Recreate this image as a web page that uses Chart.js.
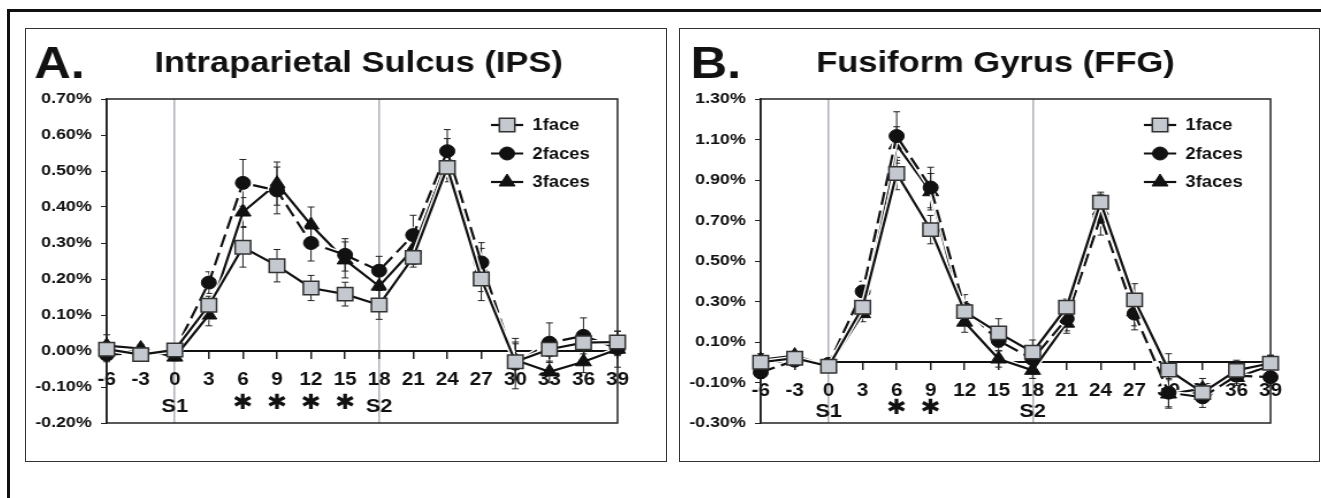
<!DOCTYPE html>
<html>
<head>
<meta charset="utf-8">
<script src="https://cdn.jsdelivr.net/npm/chart.js@4.4.1/dist/chart.umd.min.js"></script>
<style>
  body { margin: 0; background: #fff; width: 1321px; height: 498px; overflow: hidden; position: relative; }
  .frame { position: absolute; left: 7px; top: 9px; width: 1330px; height: 500px; border-top: 3px solid #111; border-left: 3px solid #111; }
  .box { position: absolute; top: 28px; height: 434px; border: 1.5px solid #333; box-sizing: border-box; }
  canvas { position: absolute; top: 28px; }
</style>
</head>
<body>
<div class="frame"></div>
<div class="box" style="left:25px;width:642px"></div>
<div class="box" style="left:679px;width:641px"></div>
<canvas id="ips" width="558" height="434" style="left:25px;width:642px;height:434px"></canvas>
<canvas id="ffg" width="557" height="434" style="left:679px;width:641px;height:434px"></canvas>
<script>
// time points (s)
const times = [-6, -3, 0, 3, 6, 9, 12, 15, 18, 21, 24, 27, 30, 33, 36, 39];
const seriesNames = ['1face', '2faces', '3faces'];

// Intraparietal Sulcus (% signal change)
const ipsOneFace = [0.005, -0.01, 0.003, 0.127, 0.288, 0.237, 0.175, 0.158, 0.128, 0.26, 0.51, 0.20, -0.03, 0.005, 0.023, 0.025];
const ipsTwoFaces = [-0.01, -0.005, 0.0, 0.19, 0.467, 0.446, 0.30, 0.267, 0.223, 0.322, 0.555, 0.246, -0.035, 0.023, 0.042, 0.007];
const ipsThreeFaces = [0.015, 0.007, -0.017, 0.10, 0.386, 0.465, 0.35, 0.253, 0.18, 0.283, 0.53, 0.225, -0.025, -0.058, -0.03, 0.005];
const ipsOneFaceErr = [0.02, 0.01, 0.01, 0.025, 0.055, 0.045, 0.035, 0.033, 0.04, 0.02, 0.03, 0.06, 0.05, 0.02, 0.02, 0.03];
const ipsTwoFacesErr = [0.02, 0.01, 0.01, 0.03, 0.065, 0.065, 0.05, 0.045, 0.04, 0.055, 0.06, 0.055, 0.07, 0.055, 0.05, 0.02];
const ipsThreeFacesErr = [0.03, 0.01, 0.01, 0.03, 0.04, 0.06, 0.05, 0.05, 0.04, 0.05, 0.06, 0.06, 0.05, 0.03, 0.03, 0.05];

// Fusiform Gyrus (% signal change)
const ffgOneFace = [0.0, 0.02, -0.02, 0.272, 0.932, 0.655, 0.25, 0.145, 0.05, 0.272, 0.79, 0.308, -0.038, -0.15, -0.04, -0.005];
const ffgTwoFaces = [-0.05, 0.008, -0.008, 0.35, 1.117, 0.863, 0.264, 0.107, 0.016, 0.215, 0.718, 0.24, -0.15, -0.173, -0.066, -0.074];
const ffgThreeFaces = [0.012, 0.033, -0.02, 0.24, 1.073, 0.842, 0.198, 0.016, -0.04, 0.193, 0.75, 0.25, -0.157, -0.13, -0.075, -0.016];
const ffgOneFaceErr = [0.03, 0.02, 0.02, 0.03, 0.08, 0.07, 0.05, 0.07, 0.06, 0.04, 0.05, 0.08, 0.08, 0.04, 0.05, 0.04];
const ffgTwoFacesErr = [0.03, 0.02, 0.02, 0.05, 0.12, 0.10, 0.07, 0.05, 0.05, 0.06, 0.09, 0.08, 0.07, 0.05, 0.04, 0.04];
const ffgThreeFacesErr = [0.03, 0.02, 0.02, 0.04, 0.09, 0.09, 0.05, 0.04, 0.04, 0.05, 0.08, 0.07, 0.07, 0.05, 0.04, 0.05];

// y axis ticks
const ipsYTicks = [-0.2, 0.7, 0.1];   // min, max, step
const ffgYTicks = [-0.3, 1.3, 0.2];

// stimulus marks under the x axis
const stimLines = [0, 18];
const ipsMarkTimes = [0, 6, 9, 12, 15, 18];
const ipsMarkText = ['S1', '\u2731', '\u2731', '\u2731', '\u2731', 'S2'];
const ffgMarkTimes = [0, 6, 9, 18];
const ffgMarkText = ['S1', '\u2731', '\u2731', 'S2'];

const FONT = '"Liberation Sans", Arial, sans-serif';
const INK = '#111';

const looks = [
  { pointStyle: 'rect', pointRadius: 9.5, pointBackgroundColor: '#c4c8cf', pointBorderColor: '#333', pointBorderWidth: 1.5, borderDash: [] },
  { pointStyle: 'circle', pointRadius: 6.5, pointBackgroundColor: INK, pointBorderColor: INK, pointBorderWidth: 1, borderDash: [13, 6] },
  { pointStyle: 'triangle', pointRadius: 8, pointBackgroundColor: INK, pointBorderColor: INK, pointBorderWidth: 1, borderDash: [] }
];

function makeSeries(values, errors) {
  return values.map((v, i) => Object.assign({
    label: seriesNames[i],
    data: v,
    errors: errors[i],
    borderColor: INK,
    borderWidth: 2.2,
    tension: 0,
    fill: false
  }, looks[i]));
}

const errorBars = {
  id: 'errorBars',
  beforeDatasetsDraw(chart) {
    const ctx = chart.ctx, y = chart.scales.y;
    ctx.save();
    ctx.strokeStyle = '#222';
    ctx.lineWidth = 1;
    chart.data.datasets.forEach((ds, i) => {
      const meta = chart.getDatasetMeta(i);
      meta.data.forEach((pt, j) => {
        const e = ds.errors[j];
        const top = y.getPixelForValue(ds.data[j] + e);
        const bot = y.getPixelForValue(ds.data[j] - e);
        ctx.beginPath();
        ctx.moveTo(pt.x, top); ctx.lineTo(pt.x, bot);
        ctx.moveTo(pt.x - 3, top); ctx.lineTo(pt.x + 3, top);
        ctx.moveTo(pt.x - 3, bot); ctx.lineTo(pt.x + 3, bot);
        ctx.stroke();
      });
    });
    ctx.restore();
  },
  // thin white halo under each line, like the original figure
  beforeDatasetDraw(chart, args) {
    const ctx = chart.ctx, pts = args.meta.data;
    ctx.save();
    ctx.strokeStyle = '#fff';
    ctx.lineWidth = 5;
    ctx.lineJoin = 'round';
    ctx.beginPath();
    pts.forEach((p, j) => j ? ctx.lineTo(p.x, p.y) : ctx.moveTo(p.x, p.y));
    ctx.stroke();
    ctx.restore();
  }
};

const decor = {
  id: 'decor',
  beforeDatasetsDraw(chart) {
    const a = chart.chartArea, ctx = chart.ctx;
    ctx.save();
    ctx.strokeStyle = '#222';
    ctx.lineWidth = 1.5;
    ctx.strokeRect(a.left, a.top, a.right - a.left, a.bottom - a.top);
    ctx.restore();
  },
  afterDraw(chart, args, o) {
    const a = chart.chartArea, ctx = chart.ctx, x = chart.scales.x;
    ctx.save();
    ctx.fillStyle = INK;
    ctx.textBaseline = 'alphabetic';
    ctx.textAlign = 'left';
    ctx.font = 'bold 44px ' + FONT;
    ctx.fillText(o.letter, o.letterX, 50);
    ctx.textAlign = 'center';
    ctx.textBaseline = 'middle';
    ctx.font = 'bold 30px ' + FONT;
    ctx.fillText(o.title, o.titleX, 36);

    // S1 / * / S2 row
    o.markTimes.forEach((t, k) => {
      const px = x.getPixelForValue(times.indexOf(t));
      const txt = o.markText[k];
      if (txt === 'S1' || txt === 'S2') {
        ctx.font = 'bold 19px ' + FONT;
        ctx.fillText(txt, px, a.bottom - o.markUp);
      } else {
        ctx.font = 'bold 21px "DejaVu Sans", sans-serif';
        ctx.fillText(txt, px, a.bottom - o.markUp - 3);
      }
    });

    // legend inside plot, top right
    const lx0 = a.right - 110, lx1 = a.right - 82, tx = a.right - 74;
    chart.data.datasets.forEach((ds, i) => {
      const ly = a.top + 26 + i * 28.5;
      ctx.strokeStyle = ds.borderColor;
      ctx.lineWidth = ds.borderWidth;
      ctx.setLineDash(ds.borderDash);
      ctx.beginPath(); ctx.moveTo(lx0, ly); ctx.lineTo(lx1, ly); ctx.stroke();
      ctx.setLineDash([]);
      ctx.fillStyle = ds.pointBackgroundColor;
      ctx.strokeStyle = ds.pointBorderColor;
      ctx.lineWidth = ds.pointBorderWidth;
      Chart.helpers.drawPoint(ctx, { pointStyle: ds.pointStyle, radius: ds.pointRadius, borderWidth: ds.pointBorderWidth, rotation: 0 }, (lx0 + lx1) / 2, ly);
      ctx.fillStyle = INK;
      ctx.textAlign = 'left';
      ctx.font = 'bold 16px ' + FONT;
      ctx.fillText(ds.label, tx, ly + 1);
    });
    ctx.restore();
  }
};

function drawPanel(id, values, errors, yTicks, deco) {
  new Chart(document.getElementById(id), {
    type: 'line',
    data: { labels: times, datasets: makeSeries(values, errors) },
    options: {
      responsive: false,
      animation: false,
      devicePixelRatio: 1,
      layout: { padding: { left: 0, top: 71, right: 43, bottom: 39 } },
      scales: {
        x: {
          type: 'category',
          offset: false,
          position: { y: 0 },
          grid: {
            drawOnChartArea: true,
            color: c => stimLines.includes(times[c.index]) ? '#adb2ba' : 'rgba(0,0,0,0)',
            lineWidth: 1.5,
            tickColor: '#222',
            tickLength: 7,
            tickWidth: 1.5
          },
          border: { display: true, color: INK, width: 2 },
          ticks: { color: INK, font: { family: FONT, size: 18, weight: 'bold' }, padding: 11, maxRotation: 0, autoSkip: false }
        },
        y: {
          min: yTicks[0],
          max: yTicks[1],
          ticks: {
            stepSize: yTicks[2],
            color: INK,
            font: { family: FONT, size: 15.5, weight: 'bold' },
            padding: 8,
            callback: v => (Math.abs(v) < 1e-9 ? 0 : v).toFixed(2) + '%'
          },
          grid: { drawOnChartArea: false, tickLength: 5, tickColor: '#222' },
          border: { color: INK, width: 1.5 },
          afterFit: s => { s.width = 71; }
        }
      },
      plugins: {
        legend: { display: false },
        tooltip: { enabled: false },
        decor: deco
      }
    },
    plugins: [errorBars, decor]
  });
}

drawPanel('ips', [ipsOneFace, ipsTwoFaces, ipsThreeFaces], [ipsOneFaceErr, ipsTwoFacesErr, ipsThreeFacesErr], ipsYTicks,
  { letter: 'A.', letterX: 8, title: 'Intraparietal Sulcus (IPS)', titleX: 290, markTimes: ipsMarkTimes, markText: ipsMarkText, markUp: 16 });
drawPanel('ffg', [ffgOneFace, ffgTwoFaces, ffgThreeFaces], [ffgOneFaceErr, ffgTwoFacesErr, ffgThreeFacesErr], ffgYTicks,
  { letter: 'B.', letterX: 10, title: 'Fusiform Gyrus (FFG)', titleX: 275, markTimes: ffgMarkTimes, markText: ffgMarkText, markUp: 11 });
</script>
</body>
</html>
